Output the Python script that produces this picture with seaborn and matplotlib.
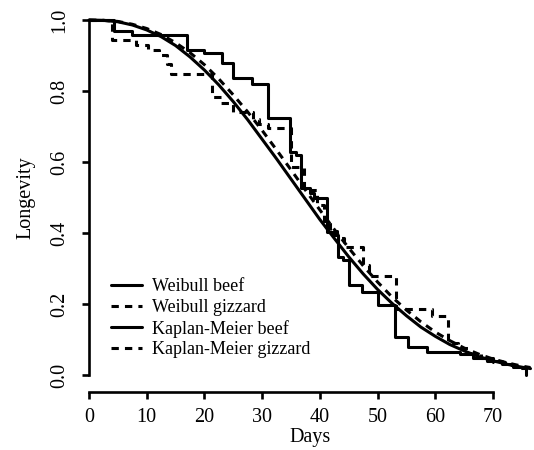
import numpy as np
import pandas as pd
import matplotlib
matplotlib.use("Agg")
import matplotlib.pyplot as plt
import seaborn as sns

# Weibull fits (every 2.5 days)
dias_w = [0, 2.5, 5, 7.5, 10, 12.5, 15, 17.5, 20, 22.5, 25, 27.5, 30, 32.5, 35, 37.5,
          40, 42.5, 45, 47.5, 50, 52.5, 55, 57.5, 60, 62.5, 65, 67.5, 70, 72.5, 75, 76.5]
weib_beef = [1.0, 0.999, 0.995, 0.986, 0.972, 0.953, 0.928, 0.896, 0.859, 0.817, 0.770,
             0.719, 0.664, 0.609, 0.552, 0.495, 0.438, 0.385, 0.333, 0.285, 0.241, 0.202,
             0.167, 0.135, 0.109, 0.086, 0.068, 0.052, 0.040, 0.030, 0.022, 0.018]
weib_gizzard = [1.0, 0.999, 0.996, 0.988, 0.976, 0.959, 0.936, 0.908, 0.874, 0.834, 0.789,
                0.741, 0.689, 0.634, 0.578, 0.521, 0.465, 0.410, 0.358, 0.308, 0.262, 0.220,
                0.183, 0.150, 0.121, 0.097, 0.076, 0.059, 0.045, 0.034, 0.025, 0.021]

# Kaplan-Meier steps
km_beef_t = [0, 4.3, 7.4, 16.9, 19.9, 23.0, 24.9, 28.2, 31.0, 34.9, 35.9, 36.8, 38.3, 39.0,
             41.3, 42.4, 43.2, 44.0, 45.0, 47.3, 50.1, 53.0, 55.3, 58.5, 64.2, 66.5, 69.0,
             71.5, 73.5, 75.8]
km_beef_s = [1.0, 0.970, 0.958, 0.915, 0.906, 0.878, 0.838, 0.820, 0.724, 0.629, 0.620, 0.526,
             0.512, 0.500, 0.403, 0.394, 0.333, 0.323, 0.254, 0.235, 0.197, 0.108, 0.080,
             0.066, 0.058, 0.048, 0.040, 0.032, 0.023, 0.0]
km_giz_t = [0, 4.0, 8.2, 10.3, 12.2, 13.6, 14.2, 21.3, 22.8, 25.0, 28.5, 29.5, 31.0, 35.0,
            37.3, 39.5, 40.8, 41.8, 42.9, 44.2, 47.5, 48.6, 53.2, 59.5, 62.2, 64.0, 66.0,
            68.0, 70.0, 72.0, 74.0, 76.0]
km_giz_s = [1.0, 0.944, 0.930, 0.916, 0.902, 0.875, 0.848, 0.784, 0.765, 0.742, 0.722, 0.706,
            0.697, 0.585, 0.522, 0.478, 0.435, 0.405, 0.385, 0.360, 0.310, 0.280, 0.186,
            0.165, 0.090, 0.075, 0.060, 0.048, 0.038, 0.028, 0.020, 0.015]

etiquetas = ["Weibull beef", "Weibull gizzard", "Kaplan-Meier beef", "Kaplan-Meier gizzard"]

sns.set_style("ticks", {"axes.edgecolor": "black", "xtick.color": "black",
                        "ytick.color": "black", "text.color": "black",
                        "axes.labelcolor": "black"})
plt.rcParams['font.family'] = ['Liberation Serif', 'DejaVu Serif']

fig = plt.figure(figsize=(5.34, 4.5), dpi=100)
ax = fig.add_axes([89 / 534, 75 / 450, 441.5 / 534, 355 / 450])

guion = (0, (2.4, 2.0))
lw = 2.2
sns.lineplot(x=dias_w, y=weib_beef, ax=ax, color="black", linewidth=lw,
             estimator=None, sort=False, label=etiquetas[0], clip_on=False)
sns.lineplot(x=dias_w, y=weib_gizzard, ax=ax, color="black", linewidth=lw, linestyle=guion,
             estimator=None, sort=False, label=etiquetas[1], clip_on=False)
sns.lineplot(x=km_beef_t, y=km_beef_s, ax=ax, color="black", linewidth=lw,
             drawstyle="steps-post", estimator=None, sort=False, label=etiquetas[2],
             clip_on=False)
sns.lineplot(x=km_giz_t, y=km_giz_s, ax=ax, color="black", linewidth=lw, linestyle=guion,
             drawstyle="steps-post", estimator=None, sort=False, label=etiquetas[3],
             clip_on=False)

ax.set_xlim(0, 76.5)
ax.set_ylim(0, 1)

# ejes estilo R
ax.spines['top'].set_visible(False)
ax.spines['right'].set_visible(False)
ax.spines['left'].set_bounds(0, 1)
ax.spines['left'].set_linewidth(1.9)
ax.spines['bottom'].set_position(('outward', 12.2))
ax.spines['bottom'].set_bounds(0, 70)
ax.spines['bottom'].set_linewidth(1.9)

ax.set_xticks(np.arange(0, 71, 10))
ax.set_yticks([0.0, 0.2, 0.4, 0.6, 0.8, 1.0])
ax.set_yticklabels(["0.0", "0.2", "0.4", "0.6", "0.8", "1.0"])
ax.tick_params(axis='both', direction='out', length=5, width=1.9, labelsize=14.5)
ax.tick_params(axis='x', pad=6.5)
ax.tick_params(axis='y', pad=9, labelrotation=90)
for t in ax.get_yticklabels():
    t.set_va('center')

ax.set_xlabel("Days", fontsize=14.5, labelpad=1)
ax.set_ylabel("Longevity", fontsize=14.5, labelpad=11)

ax.legend(loc='upper left', bbox_to_anchor=(0.05, 0.272), frameon=False, fontsize=13,
          handlelength=1.7, handletextpad=0.55, labelspacing=0.2, borderpad=0,
          borderaxespad=0)

fig.savefig("out.png", dpi=100)
